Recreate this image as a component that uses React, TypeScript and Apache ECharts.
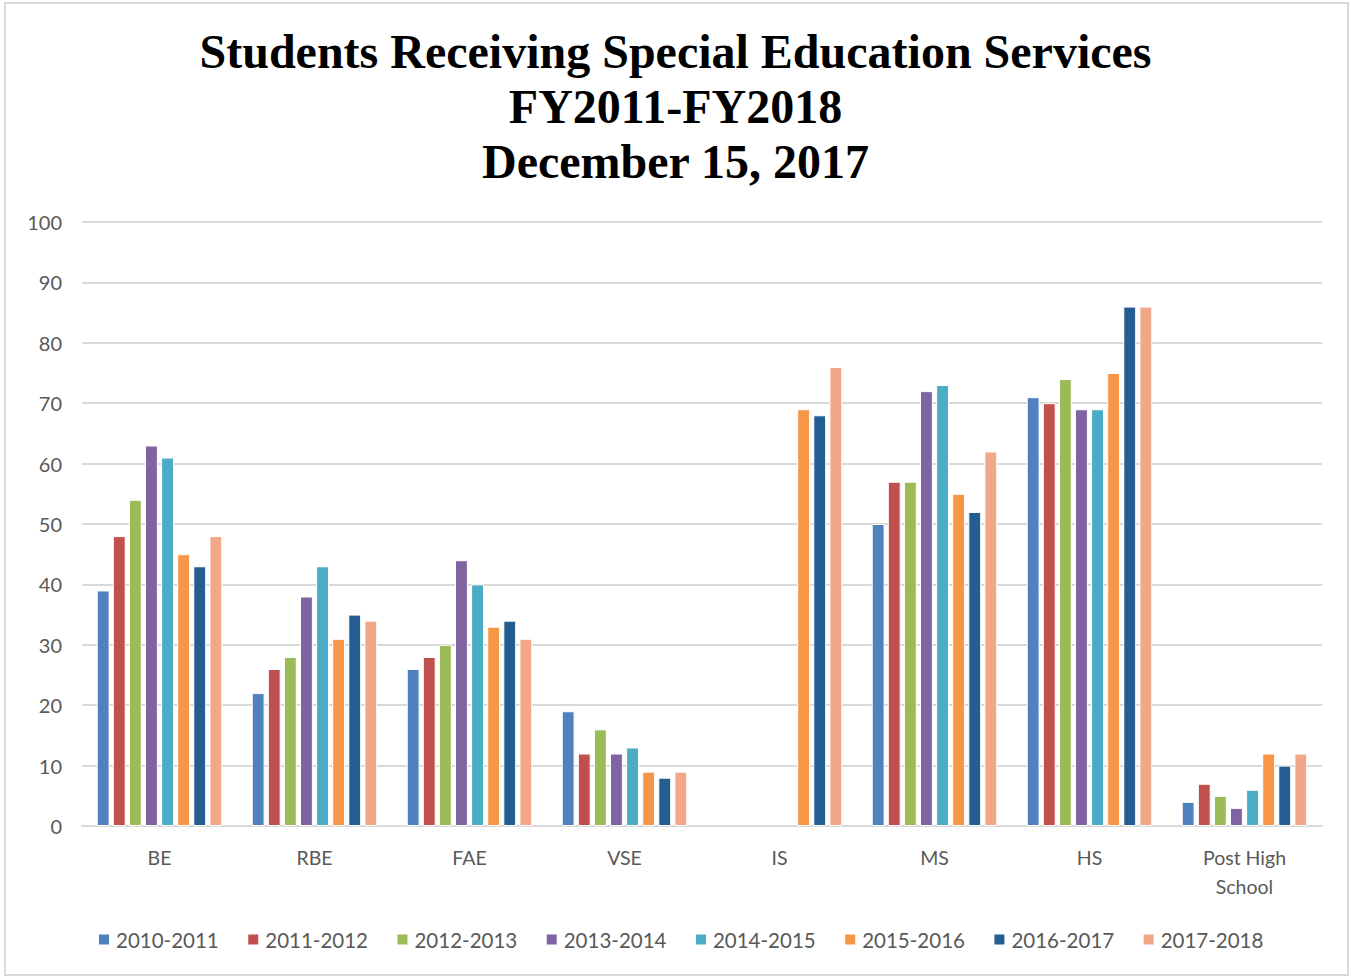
import React, { useEffect, useRef } from "react";
import * as echarts from "echarts";

const categories = ["BE", "RBE", "FAE", "VSE", "IS", "MS", "HS", "Post High\nSchool"];
const seriesNames = ["2010-2011", "2011-2012", "2012-2013", "2013-2014", "2014-2015", "2015-2016", "2016-2017", "2017-2018"];
const s2010 = [39, 22, 26, 19, null, 50, 71, 4];
const s2011 = [48, 26, 28, 12, null, 57, 70, 7];
const s2012 = [54, 28, 30, 16, null, 57, 74, 5];
const s2013 = [63, 38, 44, 12, null, 72, 69, 3];
const s2014 = [61, 43, 40, 13, null, 73, 69, 6];
const s2015 = [45, 31, 33, 9, 69, 55, 75, 12];
const s2016 = [43, 35, 34, 8, 68, 52, 86, 10];
const s2017 = [48, 34, 31, 9, 76, 62, 86, 12];
const seriesValues = [s2010, s2011, s2012, s2013, s2014, s2015, s2016, s2017];
const colors = ["#4F81BD", "#C0504D", "#9BBB59", "#8064A2", "#4BACC6", "#F79646", "#245E91", "#F1A788"];
const titleLines = ["Students Receiving Special Education Services", "FY2011-FY2018", "December 15, 2017"];

export default function App() {
  const ref = useRef<HTMLDivElement>(null);
  useEffect(() => {
    document.body.style.margin = "0";
    const chart = echarts.init(ref.current!, null, { renderer: "svg" });
    const labelFont = "Lato, 'Open Sans', sans-serif";
    chart.setOption({
      animation: false,
      backgroundColor: "#ffffff",
      color: colors,
      title: {
        text: titleLines.join("\n"),
        left: "center",
        top: 19,
        textStyle: {
          fontFamily: "'Liberation Serif', 'Times New Roman', serif",
          fontWeight: "bold",
          fontSize: 48,
          lineHeight: 55,
          color: "#000000",
        },
      },
      graphic: [
        {
          type: "rect",
          shape: { x: 5, y: 3, width: 1343, height: 972 },
          style: { fill: "none", stroke: "#D9D9D9", lineWidth: 2 },
          silent: true,
        },
      ],
      grid: { left: 82, right: 29, top: 222, bottom: 152, containLabel: false },
      legend: {
        data: seriesNames,
        bottom: 23,
        left: 92,
        itemWidth: 12,
        itemHeight: 12,
        itemGap: 27.5,
        icon: "rect",
        textStyle: { fontFamily: labelFont, fontSize: 20.5, color: "#595959", padding: [0, 0, 0, 1] },
      },
      xAxis: {
        type: "category",
        data: categories,
        axisTick: { show: false },
        axisLine: { lineStyle: { color: "#D9D9D9", width: 2 } },
        axisLabel: {
          fontFamily: labelFont,
          fontSize: 19.5,
          color: "#595959",
          margin: 17,
          lineHeight: 29,
        },
      },
      yAxis: {
        type: "value",
        min: 0,
        max: 100,
        interval: 10,
        axisLine: { show: false },
        axisTick: { show: false },
        splitLine: { lineStyle: { color: "#D9D9D9", width: 2 } },
        axisLabel: { fontFamily: labelFont, fontSize: 20, color: "#595959", margin: 20 },
      },
      series: seriesNames.map((name, i) => ({
        name,
        type: "bar",
        data: seriesValues[i],
        barGap: "25%",
        barCategoryGap: "19%",
        itemStyle: { color: colors[i], borderColor: "#ffffff", borderWidth: 1 },
      })),
    });
    return () => chart.dispose();
  }, []);
  return <div ref={ref} style={{ width: 1351, height: 978 }} />;
}
